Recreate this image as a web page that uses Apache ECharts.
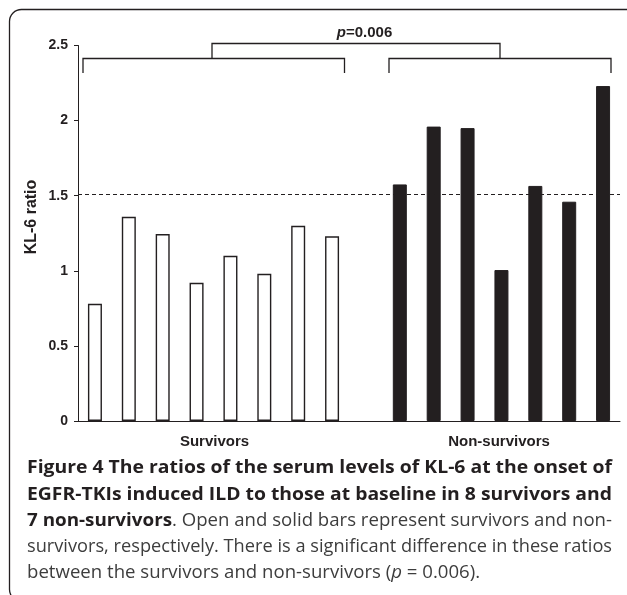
<!DOCTYPE html>
<html>
<head>
<meta charset="utf-8">
<script src="https://cdn.jsdelivr.net/npm/echarts@6/dist/echarts.min.js"></script>
<style>
html,body{margin:0;padding:0;background:#fff;}
#chart{width:627px;height:595px;}
</style>
</head>
<body>
<div id="chart"></div>
<script>
// ---- data ----
var categories = ['S1','S2','S3','S4','S5','S6','S7','S8','','N1','N2','N3','N4','N5','N6','N7'];
var survivors = [0.78, 1.36, 1.245, 0.92, 1.10, 0.98, 1.30, 1.23];
var nonSurvivors = [1.575, 1.96, 1.95, 1.005, 1.565, 1.46, 2.23];
var threshold = 1.51;
var yTicks = [0, 0.5, 1, 1.5, 2, 2.5];
var groupLabels = ['Survivors', 'Non-survivors'];
var pLabel = '0.006';
var yName = 'KL-6 ratio';

var INK = '#231f20';
var GREY = '#3d3d3d';
var data = [];
survivors.forEach(function (v) {
  data.push({ value: v, itemStyle: { color: '#ffffff', borderColor: INK, borderWidth: 1.4 } });
});
data.push(null);
nonSurvivors.forEach(function (v) {
  data.push({ value: v, itemStyle: { color: INK, borderColor: INK, borderWidth: 1 } });
});

var chart = echarts.init(document.getElementById('chart'), null, { renderer: 'canvas' });
var axisFont = 'Liberation Sans, Arial, sans-serif';
var capFont = '"Open Sans", "Noto Sans", sans-serif';
var BOLD_SIZE = 18.5, REG_SIZE = 18.3;

// text measurement for justified caption lines
var mctx = document.createElement('canvas').getContext('2d');
function tw(str, weight, size, style) {
  mctx.font = (style || 'normal') + ' ' + weight + ' ' + size + 'px ' + capFont;
  return mctx.measureText(str).width;
}
var CAP_X = 27, CAP_W = 585;
function fit(w) { return CAP_W / w; }

var l1 = 'Figure 4 The ratios of the serum levels of KL-6 at the onset of';
var l2 = 'EGFR-TKIs induced ILD to those at baseline in 8 survivors and';
var l3b = '7 non-survivors', l3r = '. Open and solid bars represent survivors and non-';
var l4 = 'survivors, respectively. There is a significant difference in these ratios';
var s1 = fit(tw(l1, 'bold', BOLD_SIZE));
var s2 = fit(tw(l2, 'bold', BOLD_SIZE));
var s3 = fit(tw(l3b, 'bold', BOLD_SIZE) + tw(l3r, 'normal', REG_SIZE));
var s4 = fit(tw(l4, 'normal', REG_SIZE));

var option = {
  backgroundColor: '#ffffff',
  animation: false,
  grid: { left: 78, right: 7, top: 45.5, bottom: 174, containLabel: false },
  xAxis: {
    type: 'category',
    data: categories,
    axisLine: { show: true, lineStyle: { color: INK, width: 1 } },
    axisTick: { show: false },
    axisLabel: { show: false },
    splitLine: { show: false }
  },
  yAxis: {
    type: 'value',
    min: yTicks[0],
    max: yTicks[yTicks.length - 1],
    interval: 0.5,
    axisLine: { show: true, lineStyle: { color: INK, width: 1 } },
    axisTick: { show: true, length: 4, lineStyle: { color: INK } },
    axisLabel: { margin: 10, color: INK, fontWeight: 'bold', fontSize: 14, fontFamily: axisFont },
    splitLine: { show: false }
  },
  series: [{
    type: 'bar',
    data: data,
    barWidth: 14,
    markLine: {
      silent: true,
      symbol: ['none', 'none'],
      label: { show: false },
      lineStyle: { color: INK, type: [4, 3], width: 1 },
      data: [{ yAxis: threshold }]
    }
  }],
  graphic: [
    // outer rounded frame
    { type: 'rect', shape: { x: 9.5, y: 9.5, width: 630, height: 592, r: 12 },
      style: { fill: 'none', stroke: INK, lineWidth: 1.3 }, z: 100 },
    // group brackets
    { type: 'polyline', shape: { points: [[83, 73], [83, 58.5], [344.5, 58.5], [344.5, 73]] },
      style: { fill: 'none', stroke: INK, lineWidth: 1.3 }, z: 100 },
    { type: 'polyline', shape: { points: [[389, 73], [389, 58.5], [611, 58.5], [611, 73]] },
      style: { fill: 'none', stroke: INK, lineWidth: 1.3 }, z: 100 },
    { type: 'polyline', shape: { points: [[212, 58.5], [212, 43.5], [500, 43.5], [500, 58.5]] },
      style: { fill: 'none', stroke: INK, lineWidth: 1.3 }, z: 100 },
    // p value
    { type: 'text', x: 364.5, y: 32.5, z: 100,
      style: { text: '{i|p}{n|=' + pLabel + '}', align: 'center', verticalAlign: 'middle',
        rich: {
          i: { fontStyle: 'italic', fontWeight: 'bold', fontSize: 15, fontFamily: axisFont, fill: INK },
          n: { fontWeight: 'bold', fontSize: 15, fontFamily: axisFont, fill: INK }
        } } },
    // y axis title
    { type: 'text', x: 32, y: 217, rotation: Math.PI / 2, z: 100,
      style: { text: yName, align: 'center', verticalAlign: 'middle', fill: INK,
        font: 'bold 16px ' + axisFont } },
    // group labels
    { type: 'text', x: 214.5, y: 442, z: 100,
      style: { text: groupLabels[0], align: 'center', verticalAlign: 'middle', fill: INK,
        font: 'bold 15px ' + axisFont } },
    { type: 'text', x: 499, y: 442, z: 100,
      style: { text: groupLabels[1], align: 'center', verticalAlign: 'middle', fill: INK,
        font: 'bold 15px ' + axisFont } },
    // caption
    { type: 'text', x: CAP_X, y: 468, scaleX: s1, z: 100,
      style: { text: l1, verticalAlign: 'middle', fill: INK, font: 'bold ' + BOLD_SIZE + 'px ' + capFont } },
    { type: 'text', x: CAP_X, y: 494.5, scaleX: s2, z: 100,
      style: { text: l2, verticalAlign: 'middle', fill: INK, font: 'bold ' + BOLD_SIZE + 'px ' + capFont } },
    { type: 'text', x: CAP_X, y: 521, scaleX: s3, z: 100,
      style: { text: '{b|' + l3b + '}{r|' + l3r + '}',
        verticalAlign: 'middle',
        rich: {
          b: { fontWeight: 'bold', fontSize: BOLD_SIZE, fontFamily: capFont, fill: INK },
          r: { fontWeight: 'normal', fontSize: REG_SIZE, fontFamily: capFont, fill: GREY }
        } } },
    { type: 'text', x: CAP_X, y: 547, scaleX: s4, z: 100,
      style: { text: l4, verticalAlign: 'middle', fill: GREY, font: REG_SIZE + 'px ' + capFont } },
    { type: 'text', x: CAP_X, y: 573, scaleX: 1.018, z: 100,
      style: { text: '{r|between the survivors and non-survivors (}{i|p}{r| = 0.006).}',
        verticalAlign: 'middle',
        rich: {
          r: { fontSize: REG_SIZE, fontFamily: capFont, fill: GREY },
          i: { fontSize: REG_SIZE, fontStyle: 'italic', fontFamily: capFont, fill: GREY }
        } } }
  ]
};
chart.setOption(option);
</script>
</body>
</html>
